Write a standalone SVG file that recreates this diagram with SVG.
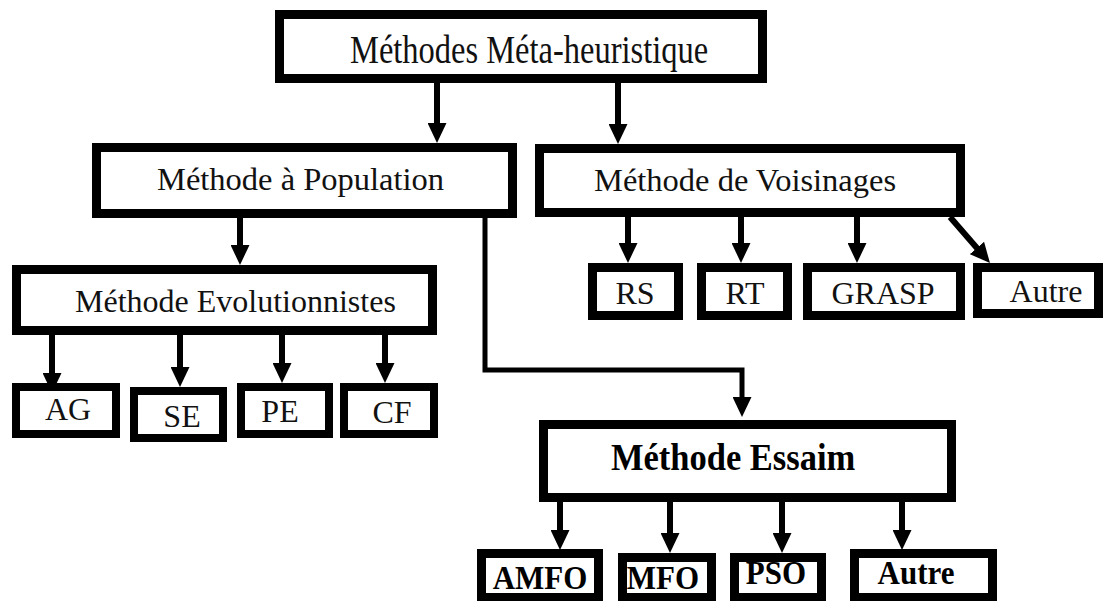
<svg xmlns="http://www.w3.org/2000/svg" width="1109" height="601" viewBox="0 0 1109 601">
<style>
.box{fill:#fff;stroke:#000;stroke-width:9}
.sbox{fill:#fff;stroke:#000;stroke-width:8}
text{font-family:'Liberation Serif','Times New Roman',Tinos,'DejaVu Serif',serif;fill:#111}
.big{font-size:32.5px}
.sm{font-size:32px;text-anchor:middle}
.b{font-weight:bold;fill:#000}
.arr{fill:none;stroke:#000;stroke-width:6;marker-end:url(#ah)}
.conn{fill:none;stroke:#000;stroke-width:5;marker-end:url(#ah)}
</style>
<defs>
<marker id="ah" markerUnits="userSpaceOnUse" markerWidth="20" markerHeight="19" viewBox="0 0 20 19" refX="4" refY="9.5" orient="auto">
<path d="M0,0 L20,9.5 L0,19 z" fill="#000"/>
</marker>
</defs>
<rect width="1109" height="601" fill="#fff"/>
<g id="connectors">
<line class="arr" x1="437" y1="83" x2="437" y2="127"/>
<line class="arr" x1="618" y1="83" x2="618" y2="128"/>
<line class="arr" x1="240" y1="218" x2="240" y2="249"/>
<polyline class="conn" points="485,218 485,370 742,370 742,401"/>
<line class="arr" x1="52" y1="335" x2="52" y2="377"/>
<line class="arr" x1="180" y1="335" x2="180" y2="371"/>
<line class="arr" x1="282" y1="335" x2="282" y2="367"/>
<line class="arr" x1="385" y1="335" x2="385" y2="367"/>
<line class="arr" x1="628" y1="217" x2="628" y2="247"/>
<line class="arr" x1="741" y1="217" x2="741" y2="247"/>
<line class="arr" x1="857" y1="217" x2="857" y2="247"/>
<line class="arr" x1="950" y1="217" x2="979.5" y2="251"/>
<line class="arr" x1="560" y1="502" x2="560" y2="534"/>
<line class="arr" x1="670" y1="502" x2="670" y2="537"/>
<line class="arr" x1="782" y1="502" x2="782" y2="537"/>
<line class="arr" x1="902" y1="502" x2="902" y2="534"/>
</g>
<g id="n-meta"><rect class="box" x="279.5" y="14.5" width="483" height="64"/><text class="big" transform="translate(350,63) scale(1,1.25)">Méthodes Méta-heuristique</text></g>
<g id="n-population"><rect class="box" x="96.5" y="147.5" width="416" height="66"/><text class="big" x="157" y="190">Méthode à Population</text></g>
<g id="n-voisinages"><rect class="box" x="539.5" y="148.5" width="421" height="64"/><text class="big" x="594" y="191">Méthode de Voisinages</text></g>
<g id="n-evol"><rect class="box" x="16.5" y="269.5" width="416" height="61"/><text font-size="32" x="75" y="312">Méthode Evolutionnistes</text></g>
<g id="n-ag"><rect class="sbox" x="16" y="387" width="100" height="47"/><text class="sm" x="68" y="420">AG</text></g>
<g id="n-se"><rect class="sbox" x="134" y="391" width="89" height="47"/><text class="sm" x="182" y="427">SE</text></g>
<g id="n-pe"><rect class="sbox" x="241" y="387" width="88" height="47"/><text class="sm" x="280" y="422">PE</text></g>
<g id="n-cf"><rect class="sbox" x="344" y="387" width="90" height="47"/><text class="sm" x="392" y="423">CF</text></g>
<g id="n-rs"><rect class="box" x="592.5" y="267.5" width="86" height="48"/><text class="sm" x="635" y="304">RS</text></g>
<g id="n-rt"><rect class="box" x="701.5" y="267.5" width="86" height="48"/><text class="sm" x="745" y="304">RT</text></g>
<g id="n-grasp"><rect class="box" x="807.5" y="267.5" width="153" height="48"/><text class="sm" x="883" y="304">GRASP</text></g>
<g id="n-autre1"><rect class="box" x="977.5" y="267.5" width="121" height="46"/><text class="sm" x="1046" y="302">Autre</text></g>
<g id="n-essaim"><rect class="box" x="543.5" y="424.5" width="408" height="73"/><text class="b" font-size="34.5" transform="translate(611,470) scale(1,1.08)">Méthode Essaim</text></g>
<g id="n-amfo"><rect class="box" x="481.5" y="553.5" width="117" height="44"/><text class="b" font-size="31" text-anchor="middle" transform="translate(540,589) scale(1,1.07)">AMFO</text></g>
<g id="n-mfo"><rect class="box" x="622.5" y="557.5" width="89" height="40"/><text class="b" font-size="31" text-anchor="middle" transform="translate(663,589) scale(1,1.07)">MFO</text></g>
<g id="n-pso"><rect class="box" x="734.5" y="557.5" width="87" height="40"/><text class="b" font-size="31" text-anchor="middle" transform="translate(776,584) scale(1,1.07)">PSO</text></g>
<g id="n-autre2"><rect class="box" x="854.5" y="553.5" width="138" height="44"/><text class="b" font-size="31" text-anchor="middle" transform="translate(916,584) scale(1,1.07)">Autre</text></g>
</svg>
